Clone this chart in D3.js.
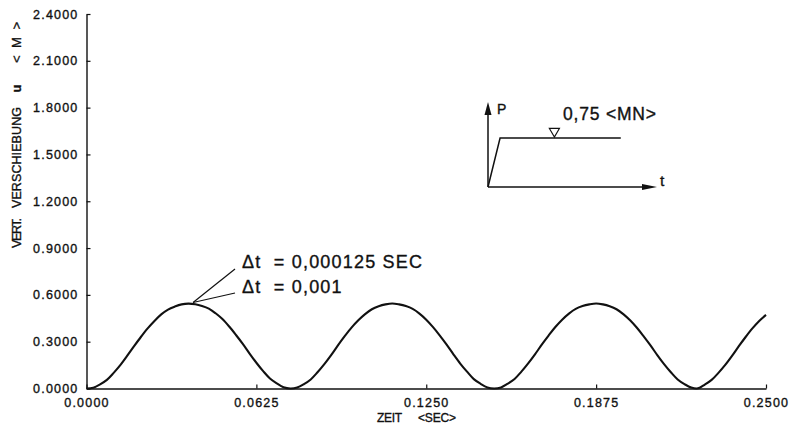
<!DOCTYPE html>
<html>
<head>
<meta charset="utf-8">
<script src="https://cdn.jsdelivr.net/npm/d3@7"></script>
<style>
  html, body { margin: 0; padding: 0; background: #fff; }
  svg { display: block; }
  text { fill: #111; stroke: #111; stroke-width: 0.35px; font-family: "Liberation Sans", Arial, sans-serif; }
</style>
</head>
<body>
<svg id="chart" width="792" height="427"></svg>
<script>
// Vertical displacement u of the structure under a step load of 0.75 MN
// Sampling grid of the response curve (seconds between samples)
const sampleStep = 0.0025;
const displacement = [
  0.000, 0.005, 0.026, 0.055, 0.100, 0.151, 0.210, 0.271, 0.330, 0.385,
  0.433, 0.475, 0.506, 0.525, 0.539, 0.544, 0.540, 0.529, 0.512, 0.482,
  0.445, 0.397, 0.343, 0.286, 0.224, 0.165, 0.111, 0.064, 0.033, 0.008,
  0.000, 0.006, 0.028, 0.058, 0.104, 0.156, 0.214, 0.276, 0.335, 0.390,
  0.437, 0.477, 0.508, 0.527, 0.539, 0.545, 0.539, 0.528, 0.510, 0.480,
  0.441, 0.393, 0.339, 0.281, 0.219, 0.160, 0.108, 0.060, 0.030, 0.007,
  0.000, 0.007, 0.031, 0.061, 0.108, 0.161, 0.219, 0.281, 0.339, 0.394,
  0.441, 0.480, 0.510, 0.528, 0.539, 0.545, 0.539, 0.527, 0.508, 0.477,
  0.437, 0.389, 0.334, 0.276, 0.214, 0.156, 0.104, 0.058, 0.028, 0.006,
  0.001, 0.025, 0.055, 0.100, 0.151, 0.209, 0.271, 0.330, 0.385, 0.433,
  0.472
];
const xTicks = [0, 0.0625, 0.125, 0.1875, 0.25];
const yTicks = [0, 0.3, 0.6, 0.9, 1.2, 1.5, 1.8, 2.1, 2.4];

// Load history sketch: time (relative) and load P in MN
const loadTime = [0, 0.1, 1.1];
const loadValue = [0, 0.75, 0.75];
const loadMarkTime = 0.55;

// Point on the curve where the time-step labels point
const annotationTime = 0.0392;
const annotationLines = ["\u0394t  = 0,000125 SEC", "\u0394t  = 0,001"];

const svg = d3.select("#chart");

const x = d3.scaleLinear().domain([0, 0.25]).range([86.5, 766]);
const y = d3.scaleLinear().domain([0, 2.4]).range([388.5, 14]);

const series = displacement.map((v, i) => ({ t: i * sampleStep, u: v }));

// Axes
const yAxis = d3.axisLeft(y)
  .tickValues(yTicks)
  .tickFormat(d3.format(".4f"))
  .tickSize(-4)
  .tickSizeOuter(0)
  .tickPadding(8);

const xAxis = d3.axisBottom(x)
  .tickValues(xTicks)
  .tickFormat(d3.format(".4f"))
  .tickSize(-4)
  .tickSizeOuter(0)
  .tickPadding(9.5);

function styleAxis(g) {
  g.select(".domain").attr("stroke", "#111").attr("stroke-width", 1.4);
  g.selectAll(".tick line").attr("stroke", "#111").attr("stroke-width", 1.2);
  g.selectAll(".tick text")
    .attr("fill", "#111")
    .style("font-family", "'Liberation Sans', Arial, sans-serif")
    .style("font-size", "12.5px")
    .style("letter-spacing", "1.2px");
}

svg.append("g")
  .attr("transform", `translate(${x(0)},0)`)
  .call(yAxis)
  .call(styleAxis);

svg.append("g")
  .attr("transform", `translate(0,${y(0)})`)
  .call(xAxis)
  .call(styleAxis);

// Axis titles
svg.append("text")
  .attr("x", 377).attr("y", 422)
  .attr("textLength", 25).attr("lengthAdjust", "spacing")
  .style("font-size", "12px")
  .text("ZEIT");
svg.append("text")
  .attr("x", 418).attr("y", 422)
  .attr("textLength", 38).attr("lengthAdjust", "spacing")
  .style("font-size", "12px")
  .text("<SEC>");

const yTitle = svg.append("g").attr("transform", "translate(20.5,0) rotate(-90)");
yTitle.append("text")
  .attr("x", -248).attr("y", 0)
  .attr("textLength", 30).attr("lengthAdjust", "spacing")
  .style("font-size", "12.5px")
  .text("VERT.");
yTitle.append("text")
  .attr("x", -208).attr("y", 0)
  .attr("textLength", 101).attr("lengthAdjust", "spacing")
  .style("font-size", "12.5px")
  .text("VERSCHIEBUNG");
yTitle.append("text")
  .attr("x", -88.5).attr("y", 0)
  .attr("text-anchor", "middle")
  .style("font-size", "13px")
  .style("font-weight", "bold")
  .text("u");
yTitle.append("text")
  .attr("x", -63).attr("y", 0)
  .attr("textLength", 41).attr("lengthAdjust", "spacing")
  .style("font-size", "13px")
  .text("<M>");

// Response curve
const line = d3.line()
  .x(d => x(d.t))
  .y(d => y(d.u))
  .curve(d3.curveCatmullRom.alpha(0.5));

svg.append("path")
  .datum(series)
  .attr("fill", "none")
  .attr("stroke", "#111")
  .attr("stroke-width", 2.1)
  .attr("stroke-linejoin", "round")
  .attr("d", line);

// Time-step annotation with leader lines
const i1 = d3.bisector(d => d.t).right(series, annotationTime);
const a = series[i1 - 1], b = series[i1];
const uAt = a.u + (b.u - a.u) * (annotationTime - a.t) / (b.t - a.t);
const ax = x(annotationTime), ay = y(uAt) - 1.5;

const labelX = 242;
const labelY = [268, 293];
const leaderEnds = [[235, 269], [235, 293]];

leaderEnds.forEach(([ex, ey]) => {
  svg.append("line")
    .attr("x1", ax).attr("y1", ay)
    .attr("x2", ex).attr("y2", ey)
    .attr("stroke", "#111")
    .attr("stroke-width", 1.2);
});

annotationLines.forEach((s, i) => {
  svg.append("text")
    .attr("x", labelX).attr("y", labelY[i])
    .style("font-size", "18px")
    .style("letter-spacing", "1.2px")
    .style("white-space", "pre")
    .attr("xml:space", "preserve")
    .text(s);
});

// Load history sketch
const ix = d3.scaleLinear().domain([0, 1.4]).range([488, 657]);
const iy = d3.scaleLinear().domain([0, 1.3]).range([187, 102]);
const inset = svg.append("g");

inset.append("line")
  .attr("x1", ix(0)).attr("y1", iy(0))
  .attr("x2", ix(0)).attr("y2", iy(1.3) + 8)
  .attr("stroke", "#111").attr("stroke-width", 1.5);
inset.append("path")
  .attr("d", `M${ix(0)},${iy(1.3)} L${ix(0) - 3.5},${iy(1.3) + 13} L${ix(0) + 3.5},${iy(1.3) + 13} Z`)
  .attr("fill", "#111");

inset.append("line")
  .attr("x1", ix(0)).attr("y1", iy(0))
  .attr("x2", ix(1.4) - 10).attr("y2", iy(0))
  .attr("stroke", "#111").attr("stroke-width", 1.5);
inset.append("path")
  .attr("d", `M${ix(1.4)},${iy(0)} L${ix(1.4) - 15},${iy(0) - 3} L${ix(1.4) - 15},${iy(0) + 3} Z`)
  .attr("fill", "#111");

inset.append("path")
  .datum(loadTime.map((t, i) => ({ t, p: loadValue[i] })))
  .attr("fill", "none")
  .attr("stroke", "#111")
  .attr("stroke-width", 1.5)
  .attr("d", d3.line().x(d => ix(d.t)).y(d => iy(d.p)));

const mx = ix(loadMarkTime), my = iy(0.75) - 1;
inset.append("path")
  .attr("d", `M${mx},${my} L${mx - 5},${my - 8.5} L${mx + 5},${my - 8.5} Z`)
  .attr("fill", "none")
  .attr("stroke", "#111")
  .attr("stroke-width", 1.2);

inset.append("text")
  .attr("x", 497).attr("y", 113.5)
  .style("font-size", "14px")
  .text("P");
inset.append("text")
  .attr("x", 660).attr("y", 186)
  .style("font-size", "15.5px")
  .text("t");
inset.append("text")
  .attr("x", 563).attr("y", 120)
  .style("font-size", "17.5px")
  .style("letter-spacing", "0.8px")
  .text("0,75 <MN>");
</script>
</body>
</html>
